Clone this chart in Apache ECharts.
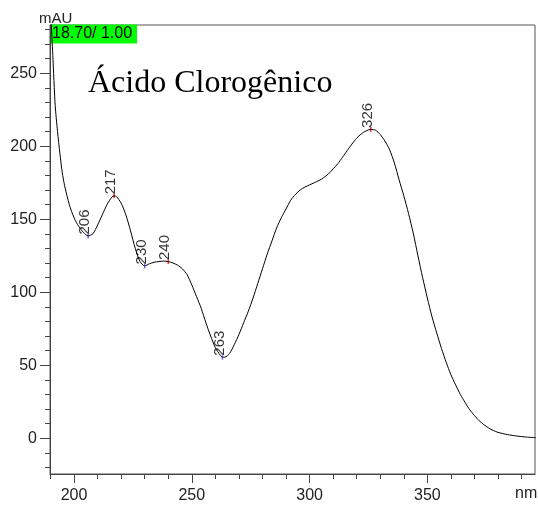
<!DOCTYPE html>
<html>
<head>
<meta charset="utf-8">
<script src="https://cdn.jsdelivr.net/npm/echarts@6/dist/echarts.min.js"></script>
<style>html,body{margin:0;padding:0;background:#fff;}#c{width:538px;height:510px;}</style>
</head>
<body>
<div id="c"></div>
<script>
const wavelengths = [190,191,192,193,194,195,196,198,200,202,204,206,208,210,212,214,216,217,218,220,222,224,226,228,230,232,234,236,238,240,242,244,246,248,250,252,254,256,258,260,262,263,264,266,268,270,272,274,276,278,280,282,284,286,288,290,292,294,296,298,300,302,304,306,308,310,312,314,316,318,320,322,324,326,328,330,332,334,336,338,340,342,344,346,348,350,352,354,356,358,360,362,364,366,368,370,372,374,376,378,380,384,388,392,396];
const absorbance = [295,262,228,210,195,182,173,160,151,145,141,138.5,140,146,153,160,165,166,165.5,161,153,142,130,121,118,119.5,120.5,121,121.3,121,120,118.5,116,112,105,97,89,79,70,62,57,55.5,55.5,58,64,71,79,87,96,106,116,126,135,144,151,157,163,167,170,172,173.5,175,176.5,178.5,181,184.5,188,192.5,197,201.5,205.5,208.5,210.5,211.5,211,208,203.5,197.5,188.5,177,166,154,140.5,125,110,96,83,72,61.5,52,43.5,36.5,30,24.5,19.5,15.5,12,9.3,7,5.3,4,2.5,1.5,0.8,0.4];
const peakNm = [206,217,230,240,263,326];
const peakAbs = [138.5,166,118,121,55.5,211.5];
const peakType = ['min','max','min','max','min','max'];
const xMajor = [200,250,300,350];
const xMinor = [190,210,220,230,240,260,270,280,290,310,320,330,340,360,370,380,390];
const yMajor = [0,50,100,150,200,250];
const yMinor = [-20,-10,10,20,30,40,60,70,80,90,110,120,130,140,160,170,180,190,210,220,230,240,260,270,280];

const X_MIN = 189.8, X_MAX = 395.7, Y_MIN = -24.5, Y_MAX = 283;
const axisCol = '#444';
const chart = echarts.init(document.getElementById('c'));
const xBase = {type:'value', min:X_MIN, max:X_MAX, gridIndex:0};
const yBase = {type:'value', min:Y_MIN, max:Y_MAX, gridIndex:0};
chart.setOption({
  animation:false,
  grid:{left:50, top:25, right:3, bottom:36, show:true, borderColor:'#555', borderWidth:1, backgroundColor:'#fff'},
  xAxis:[
    Object.assign({}, xBase, {
      axisLine:{show:true, onZero:false, lineStyle:{color:axisCol}},
      axisTick:{show:true, length:9, customValues:xMajor, lineStyle:{color:axisCol}},
      axisLabel:{show:true, customValues:xMajor, margin:14, fontFamily:'Arial, Liberation Sans', fontSize:16, color:'#222'},
      splitLine:{show:false}
    }),
    Object.assign({}, xBase, {
      position:'bottom',
      axisLine:{show:false, onZero:false},
      axisTick:{show:true, length:5, customValues:xMinor, lineStyle:{color:axisCol}},
      axisLabel:{show:false},
      splitLine:{show:false}
    })
  ],
  yAxis:[
    Object.assign({}, yBase, {
      axisLine:{show:true, onZero:false, lineStyle:{color:axisCol}},
      axisTick:{show:true, length:10, customValues:yMajor, lineStyle:{color:axisCol}},
      axisLabel:{show:true, customValues:yMajor, margin:13, fontFamily:'Arial, Liberation Sans', fontSize:16, color:'#222'},
      splitLine:{show:false}
    }),
    Object.assign({}, yBase, {
      position:'left',
      axisLine:{show:false, onZero:false},
      axisTick:{show:true, length:5, customValues:yMinor, lineStyle:{color:axisCol}},
      axisLabel:{show:false},
      splitLine:{show:false}
    })
  ],
  series:[
    {
      type:'line', xAxisIndex:0, yAxisIndex:0,
      data: wavelengths.map((w,i)=>[w, absorbance[i]]),
      smooth:0.25, showSymbol:false, clip:true,
      lineStyle:{color:'#000', width:1}
    },
    {
      type:'scatter', xAxisIndex:0, yAxisIndex:0,
      symbol:'rect', symbolSize:[1.5,5],
      data: peakNm.map((w,i)=>({value:[w, peakAbs[i]], itemStyle:{color: peakType[i]==='max' ? '#ff0000' : '#5555ff'}})),
      label:{show:true, position:'top', distance:0, rotate:90, align:'left', verticalAlign:'middle', offset:[-1,-3],
        formatter:p=>String(p.value[0]), fontFamily:'Arial, Liberation Sans', fontSize:15, color:'#000'}
    }
  ],
  graphic:[
    {type:'text', x:39, y:11, style:{text:'mAU', fontFamily:'Arial, Liberation Sans', fontSize:15, fill:'#222'}},
    {type:'rect', shape:{x:50, y:24.5, width:87, height:19}, style:{fill:'#00ff00'}},
    {type:'text', x:52, y:26, style:{text:'18.70/ 1.00', fontFamily:'Arial, Liberation Sans', fontSize:16, fill:'#000'}},
    {type:'text', x:88, y:68, style:{text:'Ácido Clorogênico', fontFamily:'Liberation Serif, Times New Roman, serif', fontSize:32, fill:'#000'}},
    {type:'text', x:515, y:486, style:{text:'nm', fontFamily:'Arial, Liberation Sans', fontSize:16, fill:'#222'}}
  ]
});
</script>
</body>
</html>
